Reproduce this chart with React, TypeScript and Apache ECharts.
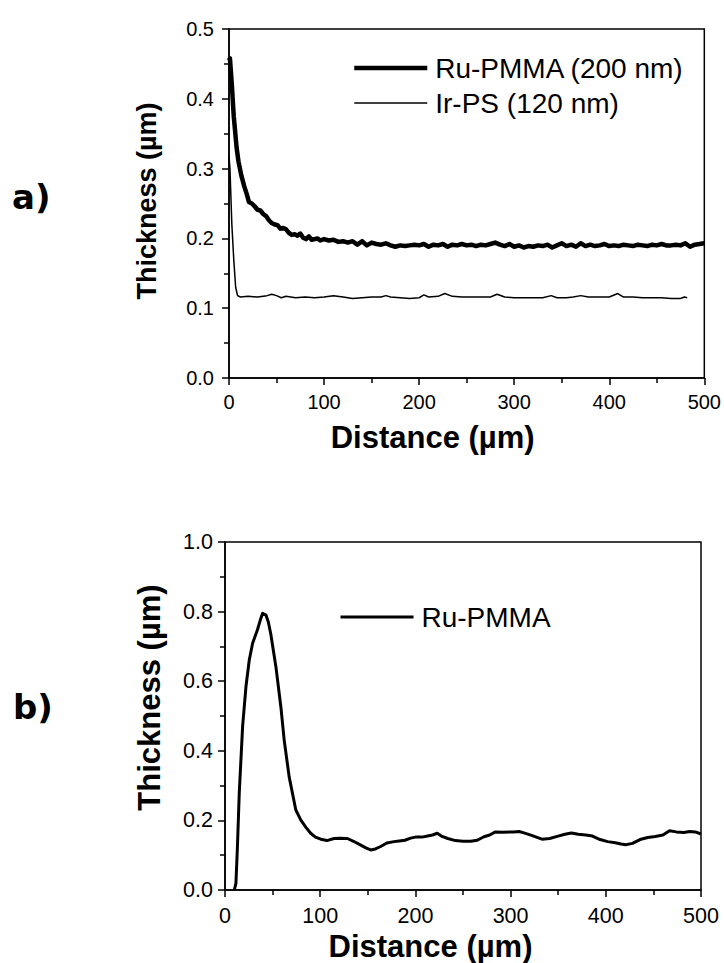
import React, { useEffect, useRef } from "react";
import * as echarts from "echarts";

// ---------- data ----------
const xTickValues = [0, 100, 200, 300, 400, 500];
const topYTicks = [0.0, 0.1, 0.2, 0.3, 0.4, 0.5];
const bottomYTicks = [0.0, 0.2, 0.4, 0.6, 0.8, 1.0];

const topSeriesNames = ["Ru-PMMA (200 nm)", "Ir-PS (120 nm)"];
const bottomSeriesNames = ["Ru-PMMA"];

// Ru-PMMA (200 nm), panel a  [distance µm, thickness µm]
const ruPmmaTop: number[][] = [
  [0, 0.455], [1, 0.458], [3, 0.42], [5, 0.375], [8, 0.33], [10, 0.31], [13, 0.29], [16, 0.275],
  [19, 0.262], [21, 0.252], [24, 0.25], [27, 0.246], [30, 0.241], [33, 0.24], [36, 0.235],
  [39, 0.232], [42, 0.226], [45, 0.222], [48, 0.22], [51, 0.219], [54, 0.214], [57, 0.215],
  [60, 0.213], [63, 0.208], [66, 0.205], [69, 0.206], [72, 0.204], [75, 0.207], [78, 0.201],
  [81, 0.199], [84, 0.203], [87, 0.198], [90, 0.199], [93, 0.2], [96, 0.197], [100, 0.199],
  [105, 0.197], [110, 0.198], [115, 0.195], [120, 0.196], [125, 0.194], [130, 0.196],
  [135, 0.191], [140, 0.196], [145, 0.19], [150, 0.194], [155, 0.192], [160, 0.191],
  [165, 0.193], [170, 0.19], [175, 0.188], [180, 0.19], [185, 0.189], [190, 0.19], [195, 0.191],
  [200, 0.19], [205, 0.192], [210, 0.188], [215, 0.191], [220, 0.19], [225, 0.192], [230, 0.188],
  [235, 0.191], [240, 0.19], [245, 0.192], [250, 0.19], [255, 0.191], [260, 0.189], [265, 0.191],
  [270, 0.19], [275, 0.192], [280, 0.194], [285, 0.191], [290, 0.189], [295, 0.192], [300, 0.188],
  [305, 0.19], [310, 0.187], [315, 0.189], [320, 0.188], [325, 0.19], [330, 0.189], [335, 0.191],
  [340, 0.187], [345, 0.19], [350, 0.193], [355, 0.189], [360, 0.191], [365, 0.188], [370, 0.193],
  [375, 0.189], [380, 0.191], [385, 0.189], [390, 0.19], [395, 0.192], [400, 0.189], [405, 0.19],
  [410, 0.189], [415, 0.191], [420, 0.19], [425, 0.189], [430, 0.191], [435, 0.19], [440, 0.189],
  [445, 0.191], [450, 0.19], [455, 0.192], [460, 0.19], [465, 0.19], [470, 0.191], [475, 0.19],
  [480, 0.193], [485, 0.188], [490, 0.191], [495, 0.192], [500, 0.193],
];

// Ir-PS (120 nm), panel a
const irPsTop: number[][] = [
  [0, 0.318], [1, 0.3], [3, 0.22], [5, 0.17], [7, 0.13], [9, 0.118], [12, 0.116], [20, 0.117],
  [30, 0.116], [40, 0.118], [45, 0.12], [50, 0.118], [55, 0.115], [60, 0.117], [70, 0.115],
  [80, 0.116], [90, 0.115], [100, 0.116], [110, 0.118], [120, 0.116], [130, 0.114], [140, 0.115],
  [150, 0.116], [160, 0.116], [165, 0.118], [170, 0.116], [180, 0.115], [190, 0.114], [200, 0.115],
  [205, 0.119], [210, 0.116], [220, 0.117], [227, 0.121], [235, 0.117], [245, 0.116], [255, 0.116],
  [265, 0.116], [275, 0.116], [282, 0.12], [290, 0.116], [300, 0.115], [310, 0.115], [320, 0.115],
  [330, 0.115], [339, 0.118], [345, 0.115], [355, 0.115], [362, 0.116], [370, 0.118], [378, 0.116],
  [390, 0.116], [400, 0.116], [409, 0.121], [415, 0.116], [425, 0.116], [435, 0.115], [445, 0.115],
  [455, 0.115], [465, 0.114], [475, 0.114], [479, 0.116], [482, 0.115],
];

// Ru-PMMA, panel b
const ruPmmaBottom: number[][] = [
  [9.8, 0.0], [11.5, 0.02], [13, 0.12], [15, 0.28], [18.5, 0.47], [22, 0.584], [25.5, 0.661],
  [29, 0.709], [34, 0.747], [37, 0.775], [39.5, 0.795], [43, 0.79], [45.5, 0.77], [48, 0.737],
  [53.5, 0.641], [58.7, 0.526], [62.2, 0.43], [67.4, 0.325], [74.4, 0.23], [79.7, 0.201],
  [85, 0.18], [90, 0.163], [95, 0.152], [100.6, 0.146], [107, 0.142], [114.6, 0.148],
  [121, 0.149], [128.6, 0.148], [135, 0.14], [142.6, 0.129], [148, 0.121], [153, 0.115],
  [158, 0.118], [163.5, 0.125], [170, 0.135], [177.5, 0.139], [183, 0.141], [189, 0.143],
  [195, 0.149], [200, 0.152], [207, 0.152], [214, 0.156], [218, 0.158], [223, 0.163],
  [228, 0.154], [234, 0.148], [242, 0.142], [250, 0.14], [258, 0.14], [265, 0.143],
  [272, 0.153], [278, 0.158], [284, 0.167], [292, 0.166], [303, 0.167], [309, 0.168],
  [314, 0.164], [322, 0.157], [327, 0.152], [333, 0.146], [341, 0.148], [349, 0.154],
  [357, 0.16], [364, 0.164], [371, 0.16], [379, 0.158], [386, 0.155], [394, 0.145],
  [402, 0.139], [410, 0.136], [416, 0.132], [421, 0.13], [428, 0.134], [436, 0.145],
  [444, 0.151], [452, 0.154], [460, 0.158], [467, 0.17], [474, 0.167], [482, 0.165],
  [488, 0.168], [494, 0.167], [500, 0.161],
];

const ARIAL = "'Liberation Sans', Arial, sans-serif";

export default function App() {
  const ref = useRef<HTMLDivElement>(null);

  useEffect(() => {
    if (!ref.current) return;
    const chart = echarts.init(ref.current, undefined, { renderer: "svg" });

    const xAxisBase = (labelSize: number, labelMargin: number, nameSize: number, nameGap: number, namePadRight: number) => ({
      type: "value" as const,
      min: 0,
      max: 500,
      interval: 100,
      axisLine: { show: true, onZero: false, lineStyle: { color: "#000", width: 1.5 } },
      axisTick: { show: true, inside: false, length: 7, lineStyle: { color: "#000", width: 1.5 } },
      minorTick: { show: true, splitNumber: 2, length: 5, lineStyle: { color: "#000", width: 1.5 } },
      splitLine: { show: false },
      axisLabel: {
        color: "#000",
        fontFamily: ARIAL,
        fontSize: labelSize,
        margin: labelMargin,
        formatter: (v: number) => (xTickValues.includes(v) ? String(v) : ""),
      },
      name: "Distance (µm)",
      nameLocation: "middle" as const,
      nameGap,
      nameTextStyle: {
        color: "#000",
        fontFamily: ARIAL,
        fontWeight: "bold" as const,
        fontSize: nameSize,
        padding: [0, namePadRight, 0, 0],
      },
    });

    const yAxisBase = (
      max: number,
      interval: number,
      ticks: number[],
      labelSize: number,
      labelMargin: number,
      nameSize: number,
      nameGap: number,
      namePadLeft: number
    ) => ({
      type: "value" as const,
      min: 0,
      max,
      interval,
      axisLine: { show: true, onZero: false, lineStyle: { color: "#000", width: 1.5 } },
      axisTick: { show: true, inside: false, length: 7, lineStyle: { color: "#000", width: 1.5 } },
      minorTick: { show: true, splitNumber: 2, length: 5, lineStyle: { color: "#000", width: 1.5 } },
      splitLine: { show: false },
      axisLabel: {
        color: "#000",
        fontFamily: ARIAL,
        fontSize: labelSize,
        margin: labelMargin,
        formatter: (v: number) => {
          const t = ticks.find((k) => Math.abs(k - v) < 1e-9);
          return t === undefined ? "" : t.toFixed(1);
        },
      },
      name: "Thickness (µm)",
      nameLocation: "middle" as const,
      nameGap,
      nameTextStyle: {
        color: "#000",
        fontFamily: ARIAL,
        fontWeight: "bold" as const,
        fontSize: nameSize,
        padding: [0, 0, 0, namePadLeft],
      },
    });

    const option: any = {
      animation: false,
      backgroundColor: "#fff",
      grid: [
        { left: 229, top: 29, width: 476, height: 349, show: true, borderColor: "#000", borderWidth: 1.5, containLabel: false },
        { left: 225, top: 542, width: 476, height: 348, show: true, borderColor: "#000", borderWidth: 1.5, containLabel: false },
      ],
      xAxis: [
        { gridIndex: 0, ...xAxisBase(20, 14, 31, 44, 68) },
        { gridIndex: 1, ...xAxisBase(21.5, 15, 31, 41, 65) },
      ],
      yAxis: [
        { gridIndex: 0, ...yAxisBase(0.5, 0.1, topYTicks, 20, 15, 27, 69, 5) },
        { gridIndex: 1, ...yAxisBase(1.0, 0.2, bottomYTicks, 21.5, 12, 31, 60, 37) },
      ],
      legend: [
        {
          orient: "vertical",
          left: 352,
          top: 52,
          padding: 0,
          itemWidth: 73,
          itemHeight: 14,
          itemGap: 3,
          itemStyle: { opacity: 0 },
          textStyle: { color: "#000", fontFamily: ARIAL, fontSize: 28, lineHeight: 32, padding: [0, 0, 0, 3] },
          data: [
            { name: topSeriesNames[0], lineStyle: { width: 4.5, color: "#000", opacity: 1 } },
            { name: topSeriesNames[1], lineStyle: { width: 1.5, color: "#000", opacity: 1 } },
          ],
          selectedMode: false,
        },
        {
          orient: "vertical",
          left: 339,
          top: 601,
          padding: 0,
          itemWidth: 73,
          itemHeight: 14,
          itemGap: 3,
          itemStyle: { opacity: 0 },
          textStyle: { color: "#000", fontFamily: ARIAL, fontSize: 28, lineHeight: 32, padding: [0, 0, 0, 3] },
          data: [{ name: bottomSeriesNames[0], lineStyle: { width: 3, color: "#000", opacity: 1 } }],
          selectedMode: false,
        },
      ],
      series: [
        {
          name: topSeriesNames[0],
          type: "line",
          xAxisIndex: 0,
          yAxisIndex: 0,
          data: ruPmmaTop,
          symbol: "none",
          color: "#000",
          lineStyle: { color: "#000", width: 4.5, join: "round" },
        },
        {
          name: topSeriesNames[1],
          type: "line",
          xAxisIndex: 0,
          yAxisIndex: 0,
          data: irPsTop,
          symbol: "none",
          color: "#000",
          lineStyle: { color: "#000", width: 1.5 },
        },
        {
          name: bottomSeriesNames[0],
          type: "line",
          xAxisIndex: 1,
          yAxisIndex: 1,
          data: ruPmmaBottom,
          symbol: "none",
          color: "#000",
          lineStyle: { color: "#000", width: 3, join: "round" },
        },
      ],
      graphic: [
        {
          type: "text",
          left: 12,
          top: 180,
          style: { text: "a)", fill: "#000", font: "bold 34px 'DejaVu Sans', Verdana, sans-serif" },
        },
        {
          type: "text",
          left: 13,
          top: 690,
          style: { text: "b)", fill: "#000", font: "bold 34px 'DejaVu Sans', Verdana, sans-serif" },
        },
      ],
    };

    chart.setOption(option);
    return () => chart.dispose();
  }, []);

  return (
    <div
      ref={ref}
      style={{ position: "absolute", left: 0, top: 0, width: 724, height: 963, background: "#fff" }}
    />
  );
}
